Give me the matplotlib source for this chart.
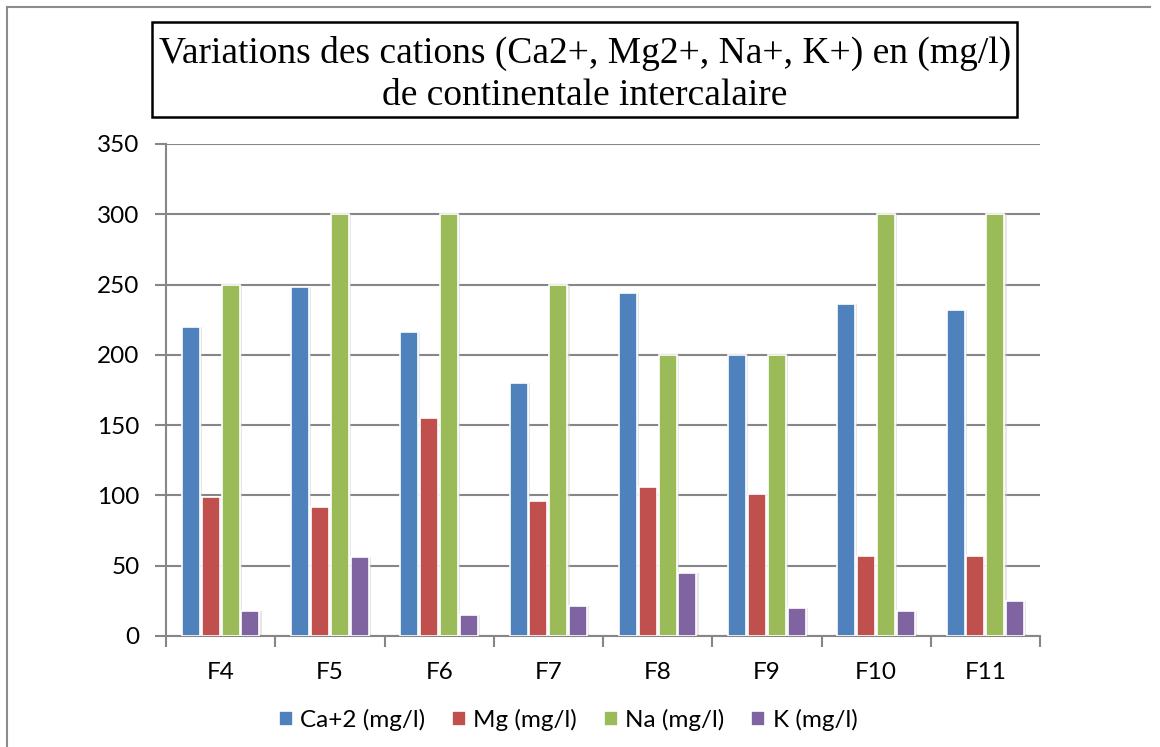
import matplotlib
matplotlib.use("Agg")
import matplotlib.pyplot as plt
import numpy as np
from matplotlib.patches import Rectangle
from matplotlib.lines import Line2D

# Données
puits = ["F4", "F5", "F6", "F7", "F8", "F9", "F10", "F11"]
ca = [220, 248, 216, 180, 244, 200, 236, 232]
mg = [99, 92, 155, 96, 106, 101, 57, 57]
na = [250, 300, 300, 250, 200, 200, 300, 300]
k = [18, 56, 15, 21, 45, 20, 18, 25]

series = [("Ca+2 (mg/l)", ca, "#4F81BD"),
          ("Mg (mg/l)", mg, "#C0504D"),
          ("Na (mg/l)", na, "#9BBB59"),
          ("K (mg/l)", k, "#8064A2")]

plt.rcParams["font.family"] = ["Lato", "DejaVu Sans"]

W, H = 1160, 747
fig = plt.figure(figsize=(W / 100, H / 100), dpi=100)
ax = fig.add_axes([166 / W, 1 - 636 / H, (1040 - 166) / W, (636 - 144) / H])

x = np.arange(len(puits))
largeur = 0.165
pas = 0.182
for i, (nom, vals, couleur) in enumerate(series):
    pos = x + (i - 1.5) * pas
    # ombre légère
    ax.bar(pos + 0.02, vals, largeur, color="#d0d0d0", alpha=0.5, zorder=2)
    ax.bar(pos, vals, largeur, color=couleur, edgecolor="white", linewidth=1.2,
           label=nom, zorder=3)

ax.set_xlim(-0.5, len(puits) - 0.5)
ax.set_ylim(0, 350)
ax.set_yticks(range(0, 351, 50))
ax.set_xticks(x)
ax.set_xticklabels(puits)
ax.set_xticks(np.arange(-0.5, len(puits), 1), minor=True)

ax.grid(axis="y", color="#868686", linewidth=1.5, zorder=0)
ax.set_axisbelow(True)
for s in ["top", "right"]:
    ax.spines[s].set_visible(False)
for s in ["left", "bottom"]:
    ax.spines[s].set_color("#868686")
    ax.spines[s].set_linewidth(1.5)

ax.tick_params(axis="x", which="major", length=0, pad=19, labelsize=17.5)
ax.tick_params(axis="x", which="minor", length=8, width=1.5, color="#868686")
ax.tick_params(axis="y", length=8, width=1.5, color="#868686", pad=11, labelsize=17.5)

# titre dans un cadre
titre = "Variations des cations (Ca2+, Mg2+, Na+, K+) en (mg/l)\nde continentale intercalaire"
fig.add_artist(Rectangle((152 / W, 1 - 117 / H), (1017 - 152) / W, (117 - 22) / H,
                         transform=fig.transFigure, fill=False, edgecolor="black",
                         linewidth=1.8))
fig.text(585 / W, 1 - 74 / H, titre, ha="center", va="center",
         family="Liberation Serif", fontsize=27, linespacing=1.28)

# cadre extérieur (gauche et haut)
fig.add_artist(Line2D([7 / W, 7 / W], [0, 1 - 7 / H], transform=fig.transFigure,
                      color="#8c8c8c", linewidth=1.5))
fig.add_artist(Line2D([7 / W, 1150 / W], [1 - 7 / H, 1 - 7 / H], transform=fig.transFigure,
                      color="#8c8c8c", linewidth=1.5))

leg = fig.legend(loc="center", bbox_to_anchor=(568 / W, 1 - 720 / H), ncol=4,
                 frameon=False, fontsize=17.5, handlelength=0.58, handleheight=0.58,
                 handletextpad=0.3, columnspacing=1.1)

fig.savefig("out.png", dpi=100)
